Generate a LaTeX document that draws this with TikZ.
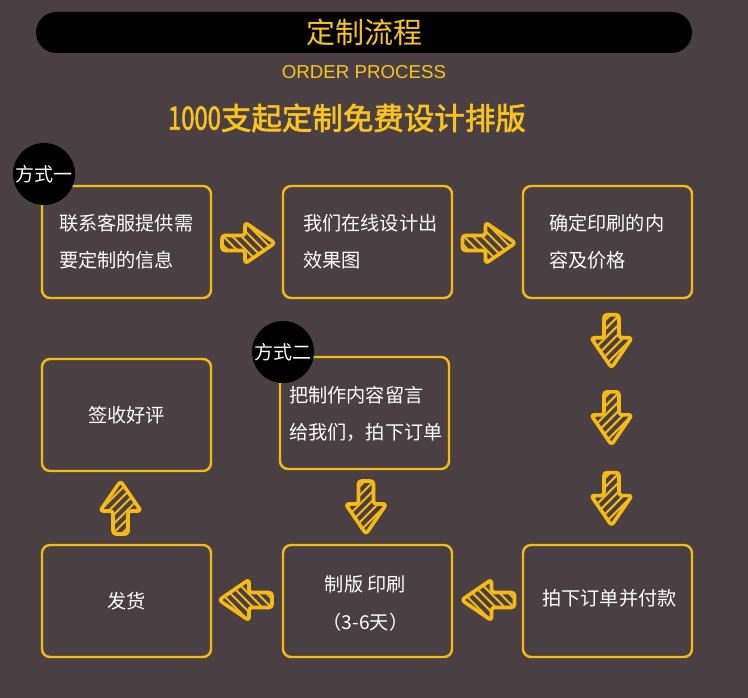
\documentclass[tikz,border=0pt]{standalone}
\usepackage{fontspec}
\setmainfont{Noto Sans CJK SC}
\newfontfamily\latinsans{Liberation Sans}
\newfontfamily\cjkmed{Noto Sans CJK SC}[FakeBold=2]
\usetikzlibrary{calc}
\definecolor{bg}{RGB}{74,64,67}
\definecolor{yel}{RGB}{246,186,20}
\definecolor{ytxt}{RGB}{250,196,30}
\tikzset{
  box/.style={draw=yel, line width=2.4pt, rounded corners=8pt, minimum width=169pt, minimum height=112pt, inner sep=0pt},
  btxt/.style={text=white, font=\fontsize{19.2}{37}\selectfont, align=left, inner sep=0pt, anchor=west},
  ctxt/.style={text=white, font=\fontsize{19.2}{38}\selectfont, align=center, inner sep=0pt},
  badge/.style={circle, fill=black, minimum size=62pt, inner sep=0pt, text=white, font=\fontsize{19}{19}\selectfont},
  pics/harrow/.style={code={
    \begin{scope}
      \clip[rounded corners=2pt] (-26,-7.5) -- (-3,-7.5) -- (-3,-20.5) -- (27,0) -- (-3,20.5) -- (-3,7.5) -- (-26,7.5) -- cycle;
      \foreach \i in {-90,-81,...,90} \draw[yel, line width=2.1pt] (\i-30,-30) -- (\i+30,30);
    \end{scope}
    \draw[yel, line width=3.6pt, line join=round, rounded corners=3pt] (-26,-7.5) -- (-3,-7.5) -- (-3,-20.5) -- (27,0) -- (-3,20.5) -- (-3,7.5) -- (-26,7.5) -- cycle;
  }}
}
\begin{document}
\begin{tikzpicture}[x=1pt,y=-1pt]
\useasboundingbox (0,0) rectangle (748,698);
\fill[bg] (0,0) rectangle (748,698);

% header
\node[fill=black, rounded corners=20.5pt, minimum width=656pt, minimum height=41pt, inner sep=0pt] (bar) at (364,32.5) {};
\node[text=ytxt, font=\fontsize{29}{29}\selectfont, inner sep=0pt] (title) at (bar.center) {定制流程};
\node[text=ytxt, font=\latinsans\fontsize{18.7}{18.7}\selectfont, inner sep=0pt] (sub) at (364,72) {ORDER PROCESS};
\node[text=ytxt, font=\cjkmed\fontsize{30.5}{30.5}\selectfont, inner sep=0pt] (slogan) at (347,118) {\scalebox{0.78}[1.05]{1000}支起定制免费设计排版};

% boxes
\node[box] (b1) at (126.5,242) {};
\node[box] (b2) at (367.5,242) {};
\node[box] (b3) at (607.5,242) {};
\node[box] (b4) at (126.5,415) {};
\node[box] (b5) at (364.5,413) {};
\node[box] (b6) at (126.5,601) {};
\node[box] (b7) at (367.5,601) {};
\node[box] (b8) at (607.5,601) {};

% badges
\node[badge] (c1) at (44,174) {方式一};
\node[badge] (c2) at (283,352) {方式二};

% texts
\node[btxt] (t1) at ($(b1.west)+(18,0)$) {联系客服提供需\\要定制的信息};
\node[btxt] (t2) at ($(b2.west)+(21,0)$) {我们在线设计出\\效果图};
\node[btxt] (t3) at ($(b3.west)+(27,0)$) {确定印刷的内\\容及价格};
\node[ctxt] (t4) at (b4.center) {签收好评};
\node[btxt] (t5) at ($(b5.west)+(10,1)$) {把制作内容留言\\给我们，拍下订单};
\node[ctxt] (t6) at (b6.center) {发货};
\node[ctxt] (t7) at ($(b7.center)+(-2,2)$) {制版 印刷\\（3-6天）};
\node[ctxt] (t8) at ($(b8.center)+(2,-3)$) {拍下订单并付款};

% arrows
\pic at ($(b1.east)!0.5!(b2.west)+(1,1)$) {harrow};
\pic at ($(b2.east)!0.5!(b3.west)+(1,1)$) {harrow};
\pic[rotate=-90] at ($(b3.south)!0.17!(b8.north)+(4,0)$) {harrow};
\pic[rotate=-90] at ($(b3.south)!0.485!(b8.north)+(4,0)$) {harrow};
\pic[rotate=-90] at ($(b3.south)!0.815!(b8.north)+(4,0)$) {harrow};
\pic[rotate=-90] at ($(b5.south)!0.5!(b7.north)+(0,0)$) {harrow};
\pic[rotate=180] at ($(b8.west)!0.5!(b7.east)+(1,-1)$) {harrow};
\pic[rotate=180] at ($(b7.west)!0.5!(b6.east)+(-1,-1)$) {harrow};
\pic[rotate=90] at ($(b6.north)!0.5!(b4.south)+(-6,0)$) {harrow};
\end{tikzpicture}
\end{document}
